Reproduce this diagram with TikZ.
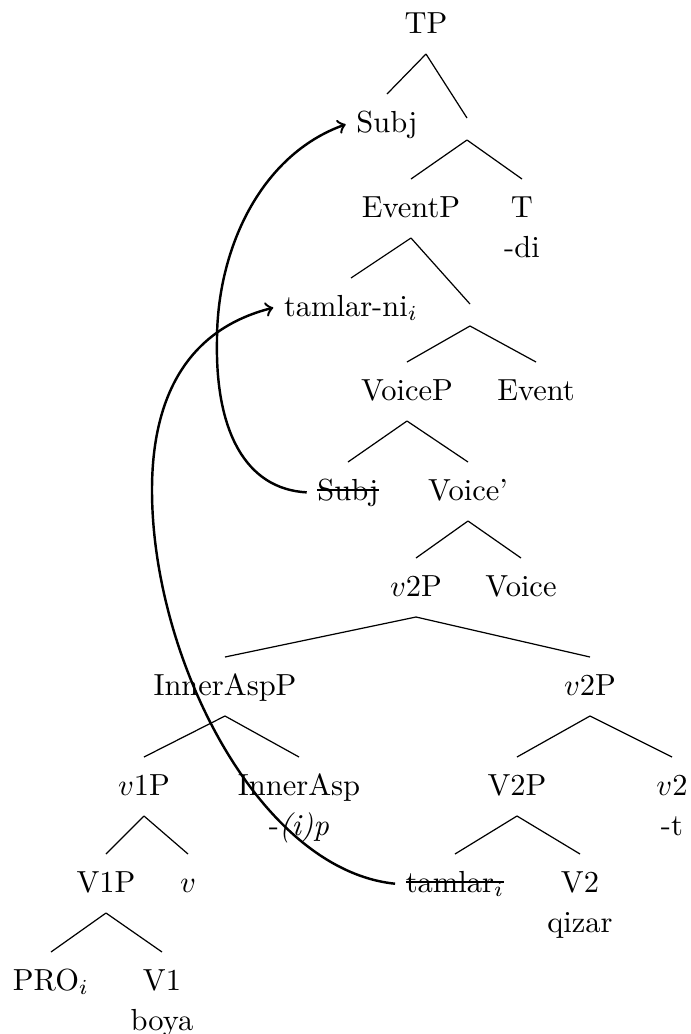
\documentclass[tikz,border=0pt]{standalone}
\usetikzlibrary{calc}
\newcommand\strk[1]{\setbox0\hbox{#1}\rlap{\rule[0.7ex]{\wd0}{0.45pt}}\box0}
\tikzset{
  lab/.style={anchor=base, font=\normalsize},
  treeline/.style={line width=0.4pt},
  movearrow/.style={->, thick}
}
\newcommand\tedge[2]{\draw[treeline] ($(#1.base)+(0,21)$) -- ($(#2.base)+(0,-38)$);}
\begin{document}
\begin{tikzpicture}[x=0.328pt,y=-0.328pt]
\useasboundingbox (0,0) rectangle (691,1034);
% nodes
\node[lab] (TP) at (426,33) {TP};
\node[lab] (Subj) at (387,132) {Subj};
\coordinate (e1t) at (467,118);
\coordinate (e1b) at (467,140);
\node[lab] (EventP) at (411,217) {EventP};
\node[lab] (T) at (522,217) {T};
\node[lab] (Tdi) at (522,257) {-di};
\node[lab] (tamni) at (351,316) {tamlar-ni$_i$};
\coordinate (e2t) at (470,304);
\coordinate (e2b) at (470,326);
\node[lab] (VoiceP) at (407,400) {VoiceP};
\node[lab] (Event) at (536,400) {Event};
\node[lab] (SubjS) at (348,500) {\strk{Subj}};
\node[lab] (Voicebar) at (468,500) {Voice'};
\node[lab] (vtwoP) at (416,596) {$v$2P};
\node[lab] (Voice) at (521,596) {Voice};
\node[lab] (InnerAspP) at (225,695) {InnerAspP};
\node[lab] (vtwoPb) at (590,695) {$v$2P};
\node[lab] (voneP) at (144,795) {$v$1P};
\node[lab] (InnerAsp) at (299,795) {InnerAsp};
\node[lab] (ip) at (299,835) {-\textit{(i)p}};
\node[lab] (VtwoP) at (517,795) {V2P};
\node[lab] (vtwo) at (672,795) {$v$2};
\node[lab] (tsuf) at (672,835) {-t};
\node[lab] (VoneP) at (106,892) {V1P};
\node[lab] (vv) at (188,892) {$v$};
\node[lab] (tamS) at (455,892) {\strk{tamlar$_i$}};
\node[lab] (Vtwo) at (580,892) {V2};
\node[lab] (qizar) at (580,932) {qizar};
\node[lab] (PRO) at (51,990) {PRO$_i$};
\node[lab] (Vone) at (162,990) {V1};
\node[lab] (boya) at (162,1030) {boya};
% tree edges
\tedge{TP}{Subj}
\draw[treeline] ($(TP.base)+(0,21)$) -- (e1t);
\draw[treeline] (e1b) -- ($(EventP.base)+(0,-38)$);
\draw[treeline] (e1b) -- ($(T.base)+(0,-38)$);
\tedge{EventP}{tamni}
\draw[treeline] ($(EventP.base)+(0,21)$) -- (e2t);
\draw[treeline] (e2b) -- ($(VoiceP.base)+(0,-38)$);
\draw[treeline] (e2b) -- ($(Event.base)+(0,-38)$);
\tedge{VoiceP}{SubjS}
\tedge{VoiceP}{Voicebar}
\tedge{Voicebar}{vtwoP}
\tedge{Voicebar}{Voice}
\tedge{vtwoP}{InnerAspP}
\tedge{vtwoP}{vtwoPb}
\tedge{InnerAspP}{voneP}
\tedge{InnerAspP}{InnerAsp}
\tedge{vtwoPb}{VtwoP}
\tedge{vtwoPb}{vtwo}
\tedge{voneP}{VoneP}
\tedge{voneP}{vv}
\tedge{VtwoP}{tamS}
\tedge{VtwoP}{Vtwo}
\tedge{VoneP}{PRO}
\tedge{VoneP}{Vone}
% movement arrows
\coordinate (midA) at (217,340);
\coordinate (midB) at (152,490);
\draw[movearrow] (SubjS.west) .. controls (245,489) and (215,430) .. (midA)
  .. controls (217,250) and (260,155) .. (Subj.west);
\draw[movearrow] (tamS.west) .. controls (260,870) and (152,660) .. (midB)
  .. controls (152,400) and (185,330) .. (tamni.west);
\end{tikzpicture}
\end{document}
